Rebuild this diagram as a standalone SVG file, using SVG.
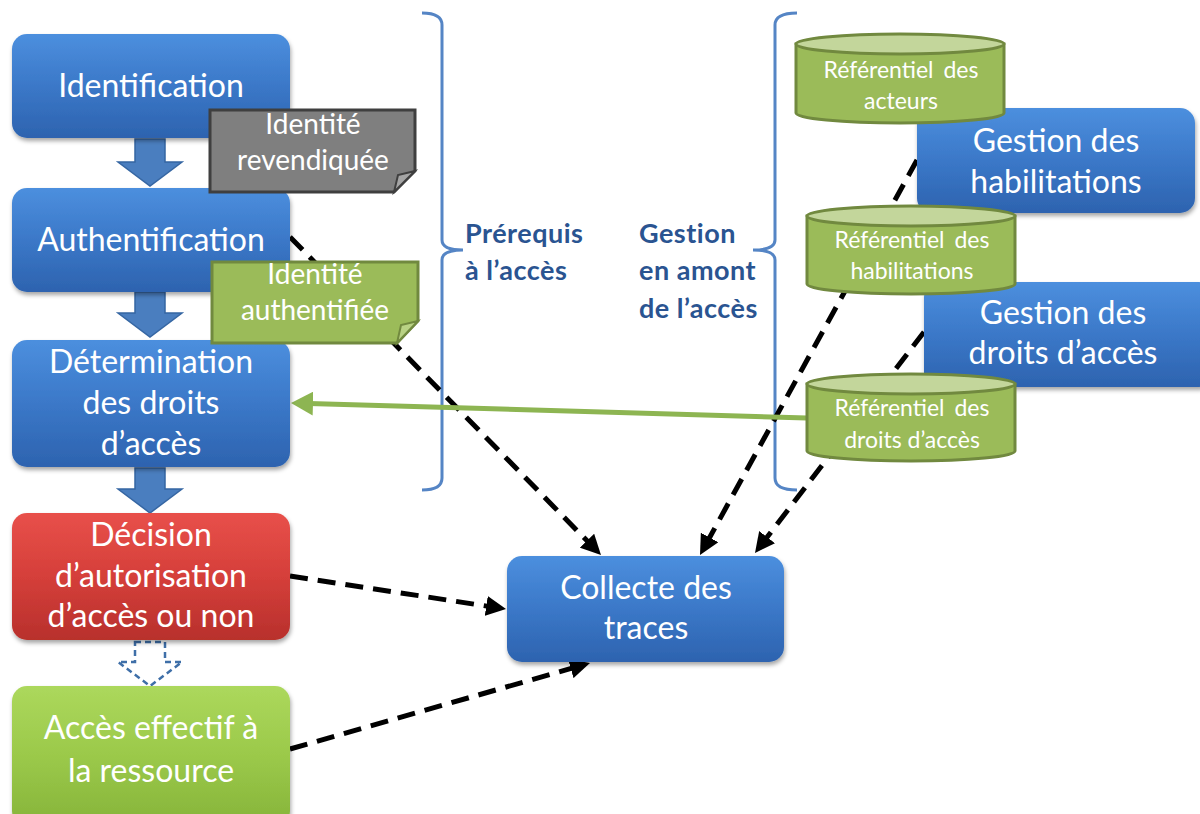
<svg xmlns="http://www.w3.org/2000/svg" width="1200" height="814" viewBox="0 0 1200 814">
<defs>
<linearGradient id="gBlue" x1="0" y1="0" x2="0" y2="1">
<stop offset="0" stop-color="#4C8FDE"/><stop offset="0.5" stop-color="#3B78C8"/><stop offset="1" stop-color="#2D63AF"/>
</linearGradient>
<linearGradient id="gRed" x1="0" y1="0" x2="0" y2="1">
<stop offset="0" stop-color="#E8504A"/><stop offset="0.5" stop-color="#D53F3A"/><stop offset="1" stop-color="#B8302C"/>
</linearGradient>
<linearGradient id="gGreen" x1="0" y1="0" x2="0" y2="1">
<stop offset="0" stop-color="#ACD85C"/><stop offset="0.5" stop-color="#9BC94A"/><stop offset="1" stop-color="#86B43A"/>
</linearGradient>
<filter id="sh" x="-10%" y="-10%" width="130%" height="140%">
<feDropShadow dx="1" dy="3" stdDeviation="2" flood-color="#000" flood-opacity="0.35"/>
</filter>
<marker id="ah" markerUnits="userSpaceOnUse" markerWidth="20" markerHeight="20" refX="4" refY="10" orient="auto" viewBox="0 0 20 20">
<path d="M0,0 L20,10 L0,20 Z" fill="#000"/>
</marker>
<marker id="ahg" markerUnits="userSpaceOnUse" markerWidth="22" markerHeight="24" refX="4" refY="12" orient="auto" viewBox="0 0 22 24">
<path d="M0,0 L22,12 L0,24 Z" fill="#8DB552"/>
</marker>
</defs>
<style>
.box{filter:url(#sh);}
.bt{font-family:Lato,"Liberation Sans",sans-serif;font-size:32px;fill:#fff;text-anchor:middle;}
.nt{font-family:Lato,"Liberation Sans",sans-serif;font-size:28px;fill:#fff;text-anchor:middle;}
.ct{font-family:Lato,"Liberation Sans",sans-serif;font-size:23px;fill:#fff;text-anchor:middle;}
.ws{word-spacing:4px;}
.lb{font-family:Lato,"Liberation Sans",sans-serif;font-size:27px;letter-spacing:0.5px;font-weight:bold;fill:#2A5491;}
.br{fill:none;stroke:#5585C5;stroke-width:3;}
.dash{fill:none;stroke:#000;stroke-width:5;stroke-dasharray:18 10;marker-end:url(#ah);}
.barrow{fill:#4A7EBF;stroke:#3566A3;stroke-width:1.5;}
.cylb{fill:#9BBB59;stroke:#71893F;stroke-width:3;}
.cylt{fill:#C3D69B;stroke:#71893F;stroke-width:3;}
</style>
<rect width="1200" height="814" fill="#fff"/>

<g id="brackets">
<path class="br" d="M422,13 Q442,13 442,25 V240 Q442,250 463,250 Q442,250 442,260 V478 Q442,490 422,490"/>
<path class="br" d="M797,13 Q775,13 775,25 V240 Q775,250 753,250 Q775,250 775,260 V478 Q775,490 797,490"/>
</g>

<g id="connectors">
<path class="dash" d="M290,237 L589.8,543.6"/>
<path class="dash" d="M917,160 L707.7,541"/>
<path class="dash" d="M924,332 L764.7,540.3"/>
<path class="dash" d="M290,576 L490.2,606.6"/>
<path class="dash" d="M290,749 L574.6,667.4"/>
<path d="M807,418 L309,403.5" fill="none" stroke="#8DB552" stroke-width="5" marker-end="url(#ahg)"/>
<path class="barrow" d="M135,139 H165 V162 H182 L150,186 L118,162 H135 Z"/>
<path class="barrow" d="M135,292 H165 V313 H182 L150,337 L118,313 H135 Z"/>
<path class="barrow" d="M135,468 H165 V489 H182 L150,513 L118,489 H135 Z"/>
<path d="M135,642 H165 V662 H182 L150,686 L118,662 H135 Z" fill="#fff" stroke="#3F6FA8" stroke-width="2.5" stroke-dasharray="6 4"/>
</g>

<g id="labels">
<text class="lb" x="465" y="243">Prérequis</text>
<text class="lb" x="465" y="280">à l’accès</text>
<text class="lb" x="639" y="243">Gestion</text>
<text class="lb" x="639" y="280">en amont</text>
<text class="lb" x="639" y="318">de l’accès</text>
</g>

<g id="identification">
<rect class="box" x="12" y="34" width="278" height="104" rx="15" fill="url(#gBlue)"/>
<text class="bt" x="151" y="97">Identification</text>
</g>
<g id="authentification">
<rect class="box" x="12" y="188" width="278" height="104" rx="15" fill="url(#gBlue)"/>
<text class="bt" x="151" y="251">Authentification</text>
</g>
<g id="determination">
<rect class="box" x="12" y="340" width="278" height="127" rx="15" fill="url(#gBlue)"/>
<text class="bt" x="151" y="373">Détermination</text>
<text class="bt" x="151" y="414">des droits</text>
<text class="bt" x="151" y="455">d’accès</text>
</g>
<g id="decision">
<rect class="box" x="12" y="513" width="278" height="127" rx="15" fill="url(#gRed)"/>
<text class="bt" x="151" y="546">Décision</text>
<text class="bt" x="151" y="587">d’autorisation</text>
<text class="bt" x="151" y="627">d’accès ou non</text>
</g>
<g id="acces">
<rect class="box" x="12" y="686" width="278" height="140" rx="15" fill="url(#gGreen)"/>
<text class="bt" x="151" y="739">Accès effectif à</text>
<text class="bt" x="151" y="782">la ressource</text>
</g>

<g id="note-revendiquee">
<path d="M210,110 H415 V171 L394,192 H210 Z" fill="#7F7F7F" stroke="#3F3F3F" stroke-width="3"/>
<path d="M415,171 L398,175 L394,192 Z" fill="#A5A5A5" stroke="#3F3F3F" stroke-width="2"/>
<text class="nt" x="313" y="134">Identité</text>
<text class="nt" x="313" y="170">revendiquée</text>
</g>
<g id="note-authentifiee">
<path d="M212,262 H418 V321 L397,343 H212 Z" fill="#9BBB59" stroke="#71893F" stroke-width="3"/>
<path d="M418,321 L401,325 L397,343 Z" fill="#B9D284" stroke="#71893F" stroke-width="2"/>
<text class="nt" x="315" y="284">Identité</text>
<text class="nt" x="315" y="320">authentifiée</text>
</g>

<g id="collecte">
<rect class="box" x="507" y="556" width="277" height="106" rx="15" fill="url(#gBlue)"/>
<text class="bt" x="646" y="599">Collecte des</text>
<text class="bt" x="646" y="639">traces</text>
</g>

<g id="gestion-habilitations">
<rect class="box" x="917" y="108" width="278" height="105" rx="15" fill="url(#gBlue)"/>
<text class="bt" x="1056" y="152">Gestion des</text>
<text class="bt" x="1056" y="193">habilitations</text>
</g>
<g id="gestion-droits">
<rect class="box" x="924" y="282" width="290" height="105" rx="15" fill="url(#gBlue)"/>
<text class="bt" x="1063" y="324">Gestion des</text>
<text class="bt" x="1063" y="364">droits d’accès</text>
</g>

<g id="ref-acteurs">
<path class="cylb" d="M796,44 V113 A104,10 0 0 0 1004,113 V44 Z"/>
<ellipse class="cylt" cx="900" cy="44" rx="104" ry="10"/>
<text class="ct ws" x="901" y="78">Référentiel des</text>
<text class="ct" x="901" y="109">acteurs</text>
</g>
<g id="ref-habilitations">
<path class="cylb" d="M807,216 V284 A104,10 0 0 0 1015,284 V216 Z"/>
<ellipse class="cylt" cx="911" cy="216" rx="104" ry="10"/>
<text class="ct ws" x="912" y="248">Référentiel des</text>
<text class="ct" x="912" y="279">habilitations</text>
</g>
<g id="ref-droits">
<path class="cylb" d="M807,384 V451 A104,10 0 0 0 1015,451 V384 Z"/>
<ellipse class="cylt" cx="911" cy="384" rx="104" ry="10"/>
<text class="ct ws" x="912" y="416">Référentiel des</text>
<text class="ct" x="912" y="448">droits d’accès</text>
</g>
</svg>
